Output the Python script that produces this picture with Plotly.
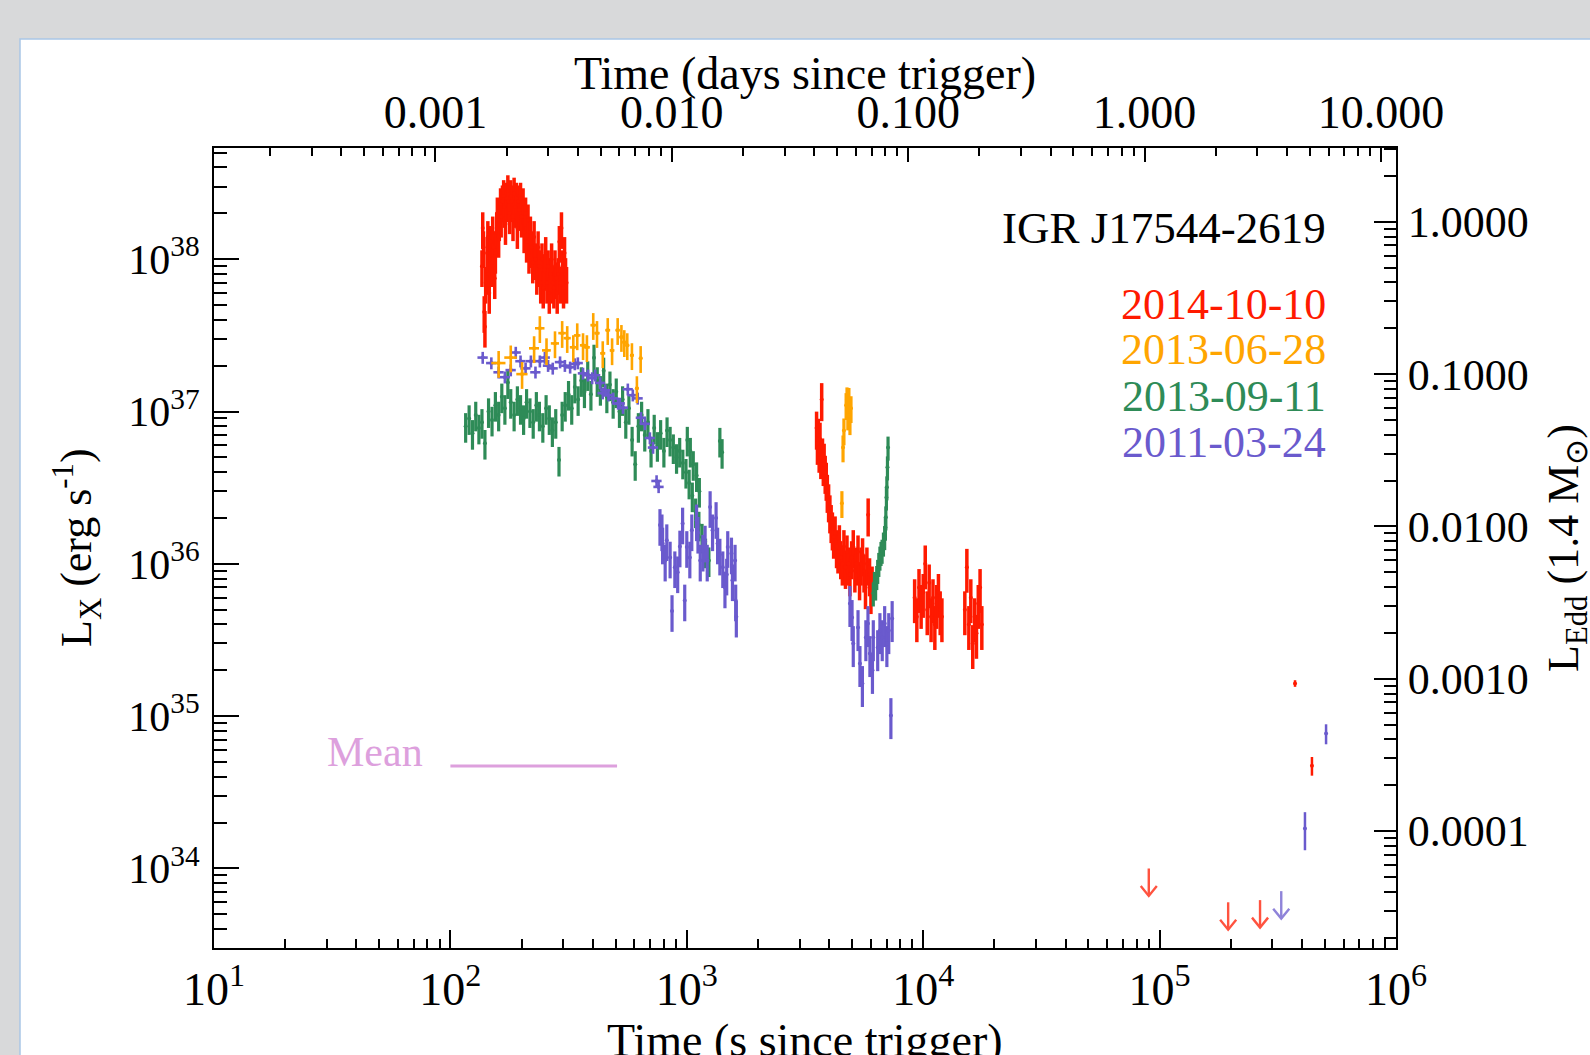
import numpy as np
import plotly.graph_objects as go

# ---------------- data (luminosities in units of 1e37 erg/s, times in s) ----------------
# 2014-10-10 (red)
t_red1 = [136,137,138,139,140,141,143,144,145,146,147,148,150,151,152,154,155,157,158,160,
          161,163,164,166,168,169,171,173,175,176,178,180,182,184,186,188,190,192,194,196,
          198,200,203,205,208,210,213,215,218,220,223,226,229,232,235,238,241,244,247,250,
          253,256,259,262,265,268,271,274,277,280,283,286,289,292,295,298,301,304,307,310]
L_red1 = [9.0,16,12,4.5,3.6,7.0,11,14,8.0,6.0,10,13,9,15,12,7.5,11,16,20,14,
          18,23,19,24,26,22,17,25,28,24,20,26,24,18,27,22,25,16,24,21,
          25,19,23,15,20,13,18,11,15,12,9.5,14,10,8.0,12,9,7.0,10,6.5,8.5,
          11,7,9,6.0,8,10,7,6.5,9,7.5,6,8,13,7,16,9,6.5,11,8,7]
t_red2 = [3540,3570,3600,3630,3660,3690,3720,3750,3780,3810,3850,3890,3930,3980,4030,4080,
          4130,4180,4240,4300,4360,4420,4480,4550,4620,4690,4760,4830,4900,4980,5060,5140,
          5220,5300,5380,5460,5540,5620,5700,5780,5850,5930,6010,6080]
L_red2 = [0.78,0.62,0.70,0.55,0.66,0.50,1.20,0.52,0.45,0.48,0.40,0.36,0.30,0.26,0.22,0.19,
          0.17,0.15,0.16,0.13,0.12,0.14,0.11,0.10,0.13,0.095,0.12,0.10,0.085,0.11,0.13,0.09,
          0.10,0.12,0.08,0.10,0.115,0.09,0.07,0.10,0.21,0.085,0.065,0.075]
t_red3 = [9200,9400,9600,9800,10000,10200,10400,10600,10800,11000,11200,11400,11600,11800,12000]
L_red3 = [0.06,0.045,0.07,0.055,0.065,0.10,0.05,0.075,0.045,0.06,0.04,0.055,0.065,0.05,0.045]
t_red4 = [15000,15300,15600,15900,16200,16500,16800,17100,17400,17700]
L_red4 = [0.05,0.095,0.04,0.06,0.03,0.045,0.035,0.055,0.07,0.04]
t_red5 = [3.74e5, 4.41e5]
L_red5 = [0.0164, 0.00473]
t_red_ul = [9.0e4, 1.95e5, 2.66e5]
L_red_ul = [0.0010, 0.00060, 0.00062]

# 2013-06-28 (orange)
t_or1 = [160,180,201,226,239,255,277,297,312,331,344,364,378,402,417,441,463,483,510,529,544,560,586,615,638]
L_or1 = [2.08,2.26,1.76,2.60,3.52,2.52,2.80,3.27,3.03,2.64,3.16,2.72,2.64,3.69,3.27,2.41,3.42,2.52,3.42,3.08,2.85,2.72,2.34,1.42,2.24]
t_or2 = [4530,4580,4620,4720,4760,4800,4850,4900,4950]
L_or2 = [0.25,0.58,0.75,1.10,1.20,0.94,1.19,0.875,1.05]

# 2013-09-11 (green)
t_gr1 = [116,120,124,128,132,136,140,145,150,155,160,165,170,175,180,186,192,198,204,210,
         217,224,231,238,246,254,262,270,279,288,297,306,316,326,336,347,358,369,381,393,
         405,418,431,445,459,473,488,503,519,535,552,569,587,605,624,644,664,685,706,728,
         751,775,800,825,850,877,905,933,962,992,1005,1023,1035,1055,1065,1090,1100,1125,1130,
         1160,1200,1240,1380,1410]
L_gr1 = [0.80,0.90,0.72,0.95,0.78,0.85,0.62,1.00,0.88,1.10,0.95,1.25,1.05,1.55,1.15,0.95,1.20,1.05,0.90,1.15,
         1.00,0.85,1.10,0.95,0.80,1.05,0.90,0.75,0.85,0.48,0.95,1.10,1.30,1.05,1.45,1.20,1.60,1.35,1.75,1.30,
         2.25,1.60,1.40,1.85,1.25,1.50,1.15,1.35,1.00,1.20,0.85,1.05,0.65,0.45,0.80,0.95,0.70,0.85,0.55,0.78,
         0.60,0.72,0.55,0.75,0.65,0.58,0.50,0.55,0.46,0.40,0.65,0.34,0.55,0.28,0.45,0.22,0.38,0.18,0.30,
         0.15,0.12,0.105,0.64,0.54]
t_gr2 = [6150,6220,6290,6360,6420,6490,6560,6630,6700,6790,6870,6920,6950,6990,7020,7060,7100]
L_gr2 = [0.064,0.075,0.070,0.082,0.090,0.100,0.110,0.118,0.122,0.136,0.150,0.173,0.202,0.273,0.318,0.43,0.58]

# 2011-03-24 (purple)
t_pu1 = [137,149,160,170,180,189,198,208,219,229,239,251,259,271,291,305,321,336,346,364,
         382,398,410,430,441,452,466,488,512,521,537,563,591,620,640,665,698,720,745,760]
L_pu1 = [2.26,2.08,1.81,1.68,1.87,2.44,2.14,1.92,2.14,1.81,2.14,2.26,2.00,1.92,2.11,2.00,1.95,2.05,2.08,1.78,
         1.73,1.66,1.73,1.54,1.32,1.38,1.28,1.22,1.13,1.13,1.06,1.40,1.28,1.22,0.91,0.83,0.67,0.58,0.35,0.32]
t_pu2 = [770,785,790,810,823,850,866,890,915,935,960,980,1000,1030,1050,1100,1115,1140,1170,1195,
         1220,1255,1285,1330,1350,1380,1420,1450,1475,1490,1545,1560,1600,1610,1620]
L_pu2 = [0.18,0.166,0.136,0.105,0.143,0.11,0.049,0.095,0.088,0.13,0.184,0.0575,0.129,0.11,0.166,0.193,0.16,0.105,0.122,0.14,
         0.105,0.236,0.166,0.20,0.136,0.115,0.095,0.070,0.085,0.129,0.117,0.078,0.105,0.0575,0.045]
t_pu3 = [4900,5000,5060,5300,5400,5530,5720,5840,5950,6100,6150,6420,6560,6710,6870,7020,7150,7300,7390]
L_pu3 = [0.055,0.0445,0.030,0.0382,0.0222,0.0164,0.0328,0.0406,0.0258,0.020,0.0328,0.0282,0.0365,0.0328,0.0406,0.030,0.0365,0.0101,0.0438]
t_pu4 = [4.12e5, 5.06e5]
L_pu4 = [0.00183, 0.00769]
t_pu_ul = [3.27e5]
L_pu_ul = [0.00071]

# mean level
t_mean = [100, 507]
L_mean = [0.0047, 0.0047]

UNIT = 1e37
L_EDD = 1.76e38  # 1.4 Msun
DAY = 86400.0

x_ticks = [1e1, 1e2, 1e3, 1e4, 1e5, 1e6]
x_ticktext = ["10<sup>1</sup>", "10<sup>2</sup>", "10<sup>3</sup>", "10<sup>4</sup>", "10<sup>5</sup>", "10<sup>6</sup>"]
y_ticks = [1e34, 1e35, 1e36, 1e37, 1e38]
y_ticktext = ["10<sup>34</sup>", "10<sup>35</sup>", "10<sup>36</sup>", "10<sup>37</sup>", "10<sup>38</sup>"]
day_ticks = [0.001, 0.01, 0.1, 1.0, 10.0]
day_ticktext = ["0.001", "0.010", "0.100", "1.000", "10.000"]
edd_ticks = [1.0, 0.1, 0.01, 0.001, 0.0001]
edd_ticktext = ["1.0000", "0.1000", "0.0100", "0.0010", "0.0001"]

RED = "#ff1a00"
ORANGE = "#ffa500"
GREEN = "#2e8b57"
PURPLE = "#6a5acd"
PLUM = "#dda0dd"
BG = "#d8d9da"

FONT = "Liberation Serif, Times New Roman, serif"

fig = go.Figure()


def add_series(t, L, color, ypct, thick=3, xerr=None):
    kw = {}
    if xerr is not None:
        kw["error_x"] = dict(color=color, thickness=thick, width=0, **xerr)
    fig.add_trace(go.Scatter(
        x=t, y=np.array(L) * UNIT, mode="markers",
        marker=dict(size=4, color=color),
        error_y=dict(type="percent", value=ypct, color=color, thickness=thick, width=0),
        hoverinfo="skip", **kw))


def add_limits(t, L, color):
    xs, ys = [], []
    for ti, Li in zip(t, L):
        top = Li * UNIT
        tip = top * 10 ** (-0.18)
        xs += [ti, ti, None, ti * 10 ** (-0.034), ti, ti * 10 ** (0.034), None]
        ys += [top, tip, None, tip * 10 ** 0.065, tip, tip * 10 ** 0.065, None]
    fig.add_trace(go.Scatter(x=xs, y=ys, mode="lines", line=dict(color=color, width=2.4),
                             opacity=0.75, hoverinfo="skip"))


add_series(t_red1, L_red1, RED, 27, 3.5)
add_series(t_red2, L_red2, RED, 28, 3.5)
add_series(t_red3, L_red3, RED, 32, 3.5)
add_series(t_red4, L_red4, RED, 32, 3.5)
add_series(t_gr1, L_gr1, GREEN, 22, 3.2)
add_series(t_gr2, L_gr2, GREEN, 18, 3.2)
add_series(t_pu1, L_pu1, PURPLE, 9, 2.6, dict(type="percent", value=5))
add_series(t_pu2, L_pu2, PURPLE, 27, 3.2)
add_series(t_pu3, L_pu3, PURPLE, 30, 3.2)
add_series(t_or1, L_or1, ORANGE, 20, 2.6, dict(type="constant", value=11))
add_series(t_or2, L_or2, ORANGE, 20, 3.2)
add_series(t_red5[:1], L_red5[:1], RED, 5, 2.5)
add_series(t_red5[1:], L_red5[1:], RED, 14, 2.5)
add_series(t_pu4[:1], L_pu4[:1], PURPLE, 28, 2.5)
add_series(t_pu4[1:], L_pu4[1:], PURPLE, 15, 2.5)
add_limits(t_red_ul, L_red_ul, RED)
add_limits(t_pu_ul, L_pu_ul, PURPLE)

fig.add_trace(go.Scatter(x=t_mean, y=np.array(L_mean) * UNIT, mode="lines",
                         line=dict(color=PLUM, width=3), hoverinfo="skip"))

# dummy trace to activate the secondary (top / right) axes
fig.add_trace(go.Scatter(x=[1.0], y=[1e-3], xaxis="x2", yaxis="y2", mode="markers",
                         marker=dict(opacity=0), hoverinfo="skip"))

y_lo, y_hi = 10 ** 33.478, 10 ** 38.73
x_lo, x_hi = 1e1, 1e6


def minor_vals(lo_exp, hi_exp):
    return [m * 10.0 ** e for e in range(lo_exp, hi_exp) for m in range(2, 10)]


axis_common = dict(type="log", showgrid=False, zeroline=False, showline=True,
                   linecolor="black", linewidth=2, ticks="inside", tickcolor="black",
                   tickwidth=2)

fig.update_layout(
    width=1590, height=1055,
    margin=dict(l=214, r=194, t=148, b=107, pad=0),
    paper_bgcolor=BG, plot_bgcolor="white",
    showlegend=False,
    font=dict(family=FONT, size=44, color="black"),
    xaxis=dict(axis_common, range=[np.log10(x_lo), np.log10(x_hi)], ticklen=18,
               tickvals=x_ticks, ticktext=x_ticktext, tickfont=dict(size=46),
               minor=dict(ticks="inside", ticklen=9, tickwidth=1.5, tickcolor="black",
                          tickvals=minor_vals(1, 6), showgrid=False),
               ticklabelstandoff=0),
    xaxis2=dict(axis_common, overlaying="x", side="top", anchor="y",
                range=[np.log10(x_lo / DAY), np.log10(x_hi / DAY)], ticklen=14,
                tickvals=day_ticks, ticktext=day_ticktext, tickfont=dict(size=46),
                minor=dict(ticks="inside", ticklen=8, tickwidth=1.5, tickcolor="black",
                           tickvals=minor_vals(-4, 2), showgrid=False),
                ticklabelstandoff=0),
    yaxis=dict(axis_common, range=[np.log10(y_lo), np.log10(y_hi)], ticklen=25,
               tickvals=y_ticks, ticktext=y_ticktext, tickfont=dict(size=42),
               minor=dict(ticks="inside", ticklen=13, tickwidth=1.5, tickcolor="black",
                          tickvals=minor_vals(33, 39), showgrid=False),
               ticklabelstandoff=4),
    yaxis2=dict(axis_common, overlaying="y", side="right", anchor="x",
                range=[np.log10(y_lo / L_EDD), np.log10(y_hi / L_EDD)], ticklen=22,
                tickvals=edd_ticks, ticktext=edd_ticktext, tickfont=dict(size=44),
                minor=dict(ticks="inside", ticklen=12, tickwidth=1.5, tickcolor="black",
                           tickvals=minor_vals(-5, 1), showgrid=False),
                ticklabelstandoff=1),
)

PW, PH, L0, B0 = 1182.0, 800.0, 214.0, 948.0


def px(x):
    return (x - L0) / PW


def py(y):
    return (B0 - y) / PH


fig.add_shape(type="rect", xref="paper", yref="paper", x0=px(20), x1=px(1650),
              y0=py(1100), y1=py(39), fillcolor="white",
              line=dict(color="#a9c6e6", width=1.5), layer="below")

ann = [
    dict(text="Time (days since trigger)", x=0.5, y=py(73), size=46, color="black", xa="center", angle=0),
    dict(text="Time (s since trigger)", x=0.5, y=py(1040), size=46, color="black", xa="center", angle=0),
    dict(text="L<sub>X</sub> (erg s<sup>-1</sup>)", x=px(77), y=0.5, size=44, color="black", xa="center", angle=-90),
    dict(text="L<sub>Edd</sub> (1.4 M<sub>⊙</sub>)", x=px(1566), y=py(548), size=44, color="black", xa="center", angle=-90),
    dict(text="IGR J17544-2619", x=px(1328), y=py(228), size=45, color="black", xa="right", angle=0),
    dict(text="2014-10-10", x=px(1328), y=py(304), size=44, color=RED, xa="right", angle=0),
    dict(text="2013-06-28", x=px(1328), y=py(350), size=44, color=ORANGE, xa="right", angle=0),
    dict(text="2013-09-11", x=px(1328), y=py(396), size=44, color=GREEN, xa="right", angle=0),
    dict(text="2011-03-24", x=px(1328), y=py(442), size=44, color=PURPLE, xa="right", angle=0),
    dict(text="Mean", x=px(375), y=py(752), size=42, color=PLUM, xa="center", angle=0),
]
for a in ann:
    fig.add_annotation(text=a["text"], x=a["x"], y=a["y"], xref="paper", yref="paper",
                       showarrow=False, xanchor=a["xa"], yanchor="middle",
                       textangle=a["angle"],
                       font=dict(family=FONT, size=a["size"], color=a["color"]))

fig.write_html(
    "out.html",
    config={"displayModeBar": False},
    post_script="document.body.style.margin='0px';document.body.style.overflow='hidden';"
                "document.body.style.backgroundColor='" + BG + "';",
)
